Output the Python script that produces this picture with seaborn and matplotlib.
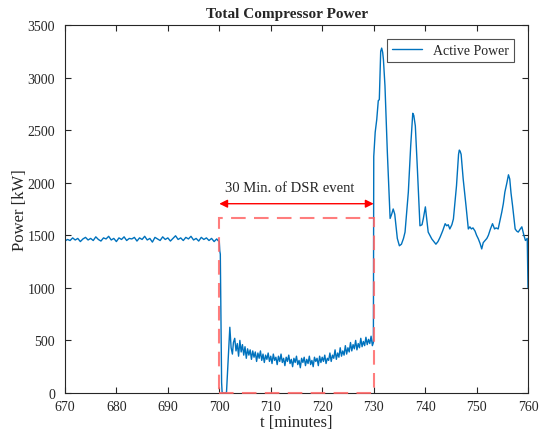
import numpy as np
import pandas as pd
import matplotlib
matplotlib.use("Agg")
import matplotlib.pyplot as plt
from matplotlib.patches import Rectangle
import seaborn as sns

# ---------- data ----------

# steady operation before the event, one reading every 0.5 min from 670
pre_start, pre_step = 670.0, 0.5
pre_power = [
    1445, 1460, 1450, 1475, 1455, 1470, 1440, 1465, 1480, 1455,
    1470, 1450, 1485, 1460, 1445, 1475, 1465, 1490, 1455, 1470,
    1440, 1475, 1460, 1485, 1450, 1470, 1465, 1480, 1445, 1475,
    1460, 1490, 1455, 1470, 1435, 1480, 1465, 1450, 1485, 1460,
    1475, 1445, 1470, 1495, 1460, 1475, 1450, 1480, 1465, 1490,
    1455, 1470, 1445, 1480, 1460, 1475, 1450, 1470, 1440, 1465,
]

# shutdown at the start of the DSR event
drop_t = [699.75, 700.0, 700.1, 700.2, 700.45, 700.55, 701.0, 701.4,
          701.7, 702.05, 702.3, 702.55]
drop_power = [1450, 1440, 1350, 1320, 100, 5, 0, 5, 300, 625, 430, 370]

# reduced load during the event, one reading every 0.25 min from 702.75
event_start, event_step = 702.75, 0.25
event_power = [
    480, 520, 400, 470, 350, 500, 390, 460, 360, 440,
    330, 420, 360, 410, 320, 400, 340, 390, 300, 380,
    330, 400, 310, 370, 290, 360, 320, 380, 300, 350,
    280, 370, 310, 340, 270, 350, 300, 370, 290, 330,
    260, 340, 300, 360, 280, 320, 250, 330, 290, 350,
    270, 310, 240, 330, 290, 340, 260, 320, 280, 350,
    270, 310, 250, 340, 300, 330, 260, 350, 290, 340,
    300, 360, 280, 330, 310, 380, 300, 360, 330, 410,
    320, 380, 340, 430, 350, 400, 360, 450, 370, 430,
    390, 480, 400, 460, 420, 500, 410, 470, 430, 520,
    440, 490, 450, 530, 460, 510, 470, 540, 450,
]

# rebound after the event
post_t = [729.95, 730.02, 730.3, 730.6, 730.9, 731.1, 731.37, 731.56, 731.75,
          731.9, 732.2, 732.66, 733.2, 733.5, 733.8, 734.1, 734.6, 735.0,
          735.4, 735.8, 736.1, 736.74, 737.2, 737.6, 737.8, 738.1, 738.5,
          739.0, 739.4, 739.66, 740.05, 740.3, 740.6, 741.3, 741.7, 742.1,
          742.5, 742.9, 743.4, 743.9, 744.2, 744.5, 744.8, 745.2, 745.5,
          746.1, 746.5, 746.65, 746.8, 747.0, 747.4, 747.95, 748.4, 748.7,
          749.0, 749.3, 749.7, 750.0, 750.35, 750.7, 751.0, 751.3, 751.65,
          752.0, 752.3, 752.7, 753.1, 753.5, 753.8, 754.2, 754.6, 754.9,
          755.2, 755.5, 755.9, 756.2, 756.45, 756.7, 757.0, 757.5, 757.8,
          758.1, 758.5, 758.8, 759.2, 759.5, 759.75, 759.85, 760.0]
post_power = [480, 2250, 2480, 2600, 2780, 2790, 3250, 3280, 3240,
              3170, 2920, 2290, 1660, 1700, 1750, 1700, 1470, 1400,
              1415, 1470, 1530, 1910, 2350, 2660, 2640, 2540, 2130,
              1590, 1600, 1660, 1770, 1660, 1530, 1465, 1440, 1415,
              1440, 1480, 1540, 1610, 1590, 1600, 1560, 1600, 1655,
              1970, 2270, 2310, 2300, 2270, 2035, 1780, 1560, 1580,
              1560, 1570, 1540, 1500, 1465, 1420, 1370, 1430, 1450,
              1470, 1500, 1560, 1610, 1560, 1570, 1560, 1650, 1720,
              1800, 1910, 2000, 2075, 2035, 1900, 1780, 1560, 1540,
              1530, 1560, 1580, 1500, 1450, 1465, 1470, 1000]

event_window = (700, 730)
event_label = "30 Min. of DSR event"

# ---------- build the series ----------

pre_t = pre_start + pre_step * np.arange(len(pre_power))
event_t = event_start + event_step * np.arange(len(event_power))

df = pd.DataFrame({
    "t": np.concatenate([pre_t, drop_t, event_t, post_t]),
    "power": np.concatenate([pre_power, drop_power, event_power, post_power]),
})

# ---------- plot ----------

sns.set_style("white")
plt.rcParams["font.family"] = ["Liberation Serif", "DejaVu Serif"]

fig = plt.figure(figsize=(5.41, 4.35), dpi=100)
ax = fig.add_axes([0.120, 0.0943, 0.856, 0.846])

sns.lineplot(data=df, x="t", y="power", ax=ax, color="#0072BD",
             linewidth=1.0, label="Active Power", sort=False)

# event box and span arrow
ax.add_patch(Rectangle((event_window[0], 0), event_window[1] - event_window[0], 1660,
                       fill=False, edgecolor="#FF6666", linewidth=1.5,
                       linestyle=(0, (7, 4)), alpha=0.85, zorder=3,
                       clip_on=False))
ax.annotate("", xy=(event_window[0], 1800), xytext=(event_window[1], 1800),
            arrowprops=dict(arrowstyle="<|-|>", color="red", lw=1.0,
                            mutation_scale=12, shrinkA=0, shrinkB=0))
ax.text(713.7, 1955, event_label, ha="center", va="center", fontsize=10.5)

ax.set_xlim(670, 760)
ax.set_ylim(0, 3500)
ax.set_xticks(np.arange(670, 761, 10))
ax.set_yticks(np.arange(0, 3501, 500))
ax.set_title("Total Compressor Power", fontsize=11, fontweight="bold",
             pad=6, x=0.48)
ax.set_xlabel("t [minutes]", fontsize=12, labelpad=1)
ax.set_ylabel("Power [kW]", fontsize=12, labelpad=0)

ax.tick_params(direction="in", length=4, width=0.8, colors="#262626",
               labelsize=10, top=True, right=True, bottom=True, left=True)
ax.tick_params(axis="x", pad=5)
ax.tick_params(axis="y", pad=7)
for sp in ax.spines.values():
    sp.set_color("#262626")
    sp.set_linewidth(0.8)

leg = ax.legend(loc="upper right", fontsize=10, frameon=True, fancybox=False,
                handlelength=2.2, borderpad=0.35, borderaxespad=1.0)
leg.get_frame().set_edgecolor("#262626")
leg.get_frame().set_linewidth(0.8)

fig.savefig("out.png", dpi=100)
plt.close(fig)
